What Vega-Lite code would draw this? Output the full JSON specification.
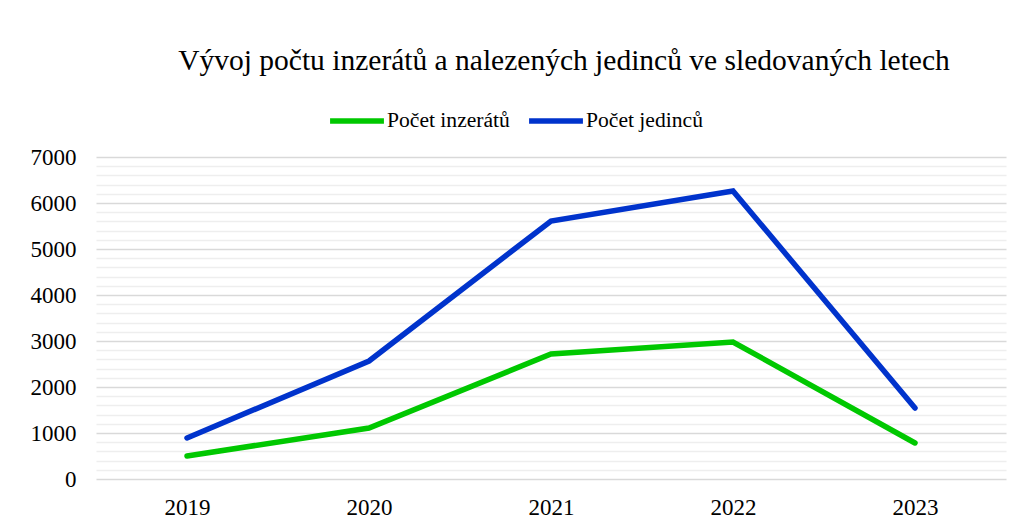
{
  "$schema": "https://vega.github.io/schema/vega-lite/v6.json",
  "width": 910,
  "height": 322,
  "autosize": "none",
  "padding": {"left": 96, "top": 157, "right": 18, "bottom": 48},
  "background": "white",
  "title": {
    "text": "Vývoj počtu inzerátů a nalezených jedinců ve sledovaných letech",
    "font": "Liberation Serif",
    "fontSize": 29.5,
    "fontWeight": "normal",
    "color": "#000000",
    "anchor": "middle",
    "dx": 13,
    "offset": 15
  },
  "data": {
    "values": [
      {"Rok": "2019", "Rada": "Počet inzerátů", "Hodnota": 500},
      {"Rok": "2020", "Rada": "Počet inzerátů", "Hodnota": 1109},
      {"Rok": "2021", "Rada": "Počet inzerátů", "Hodnota": 2717},
      {"Rok": "2022", "Rada": "Počet inzerátů", "Hodnota": 2978},
      {"Rok": "2023", "Rada": "Počet inzerátů", "Hodnota": 783},
      {"Rok": "2019", "Rada": "Počet jedinců", "Hodnota": 891},
      {"Rok": "2020", "Rada": "Počet jedinců", "Hodnota": 2565},
      {"Rok": "2021", "Rada": "Počet jedinců", "Hodnota": 5609},
      {"Rok": "2022", "Rada": "Počet jedinců", "Hodnota": 6261},
      {"Rok": "2023", "Rada": "Počet jedinců", "Hodnota": 1543}
    ]
  },
  "layer": [
    {
      "mark": {"type": "point", "opacity": 0},
      "encoding": {
        "x": {
          "field": "Rok", "type": "ordinal", "scale": {"type": "point", "padding": 0.5},
          "axis": {
            "title": null, "labelAngle": 0, "ticks": false, "domain": false, "grid": false,
            "labelFont": "Liberation Serif", "labelFontSize": 23, "labelColor": "#000000", "labelPadding": 17
          }
        },
        "y": {
          "field": "Hodnota", "type": "quantitative",
          "scale": {"domain": [0, 7000], "nice": false},
          "axis": {
            "orient": "left",
            "values": [200,400,600,800,1200,1400,1600,1800,2200,2400,2600,2800,3200,3400,3600,3800,4200,4400,4600,4800,5200,5400,5600,5800,6200,6400,6600,6800],
            "grid": true, "gridColor": "#eeeeee", "gridWidth": 1.5,
            "labels": false, "ticks": false, "domain": false, "title": null
          }
        }
      }
    },
    {
      "mark": {"type": "line", "strokeWidth": 5.5, "strokeCap": "round", "strokeJoin": "miter"},
      "encoding": {
        "x": {
          "field": "Rok", "type": "ordinal", "scale": {"type": "point", "padding": 0.5},
          "axis": {
            "title": null, "labelAngle": 0, "ticks": false, "domain": false, "grid": false,
            "labelFont": "Liberation Serif", "labelFontSize": 23, "labelColor": "#000000", "labelPadding": 17
          }
        },
        "y": {
          "field": "Hodnota", "type": "quantitative",
          "scale": {"domain": [0, 7000], "nice": false},
          "axis": {
            "orient": "left",
            "values": [0,1000,2000,3000,4000,5000,6000,7000],
            "format": "d",
            "grid": true, "gridColor": "#d9d9d9", "gridWidth": 1.5,
            "ticks": false, "domain": false, "title": null,
            "labelFont": "Liberation Serif", "labelFontSize": 23, "labelColor": "#000000", "labelPadding": 20
          }
        },
        "color": {
          "field": "Rada", "type": "nominal",
          "scale": {"domain": ["Počet inzerátů", "Počet jedinců"], "range": ["#00c800", "#0033cc"]},
          "legend": {
            "title": null, "orient": "none", "direction": "horizontal",
            "legendX": 231, "legendY": -66,
            "symbolType": "stroke", "symbolSize": 2900, "symbolStrokeWidth": 5.5,
            "labelOffset": 0, "columnPadding": 8
          }
        }
      }
    }
  ],
  "resolve": {"axis": {"y": "independent"}},
  "config": {
    "view": {"stroke": null},
    "legend": {"labelFont": "Liberation Serif", "labelFontSize": 21.6, "labelColor": "#000000", "labelLimit": 400}
  }
}
